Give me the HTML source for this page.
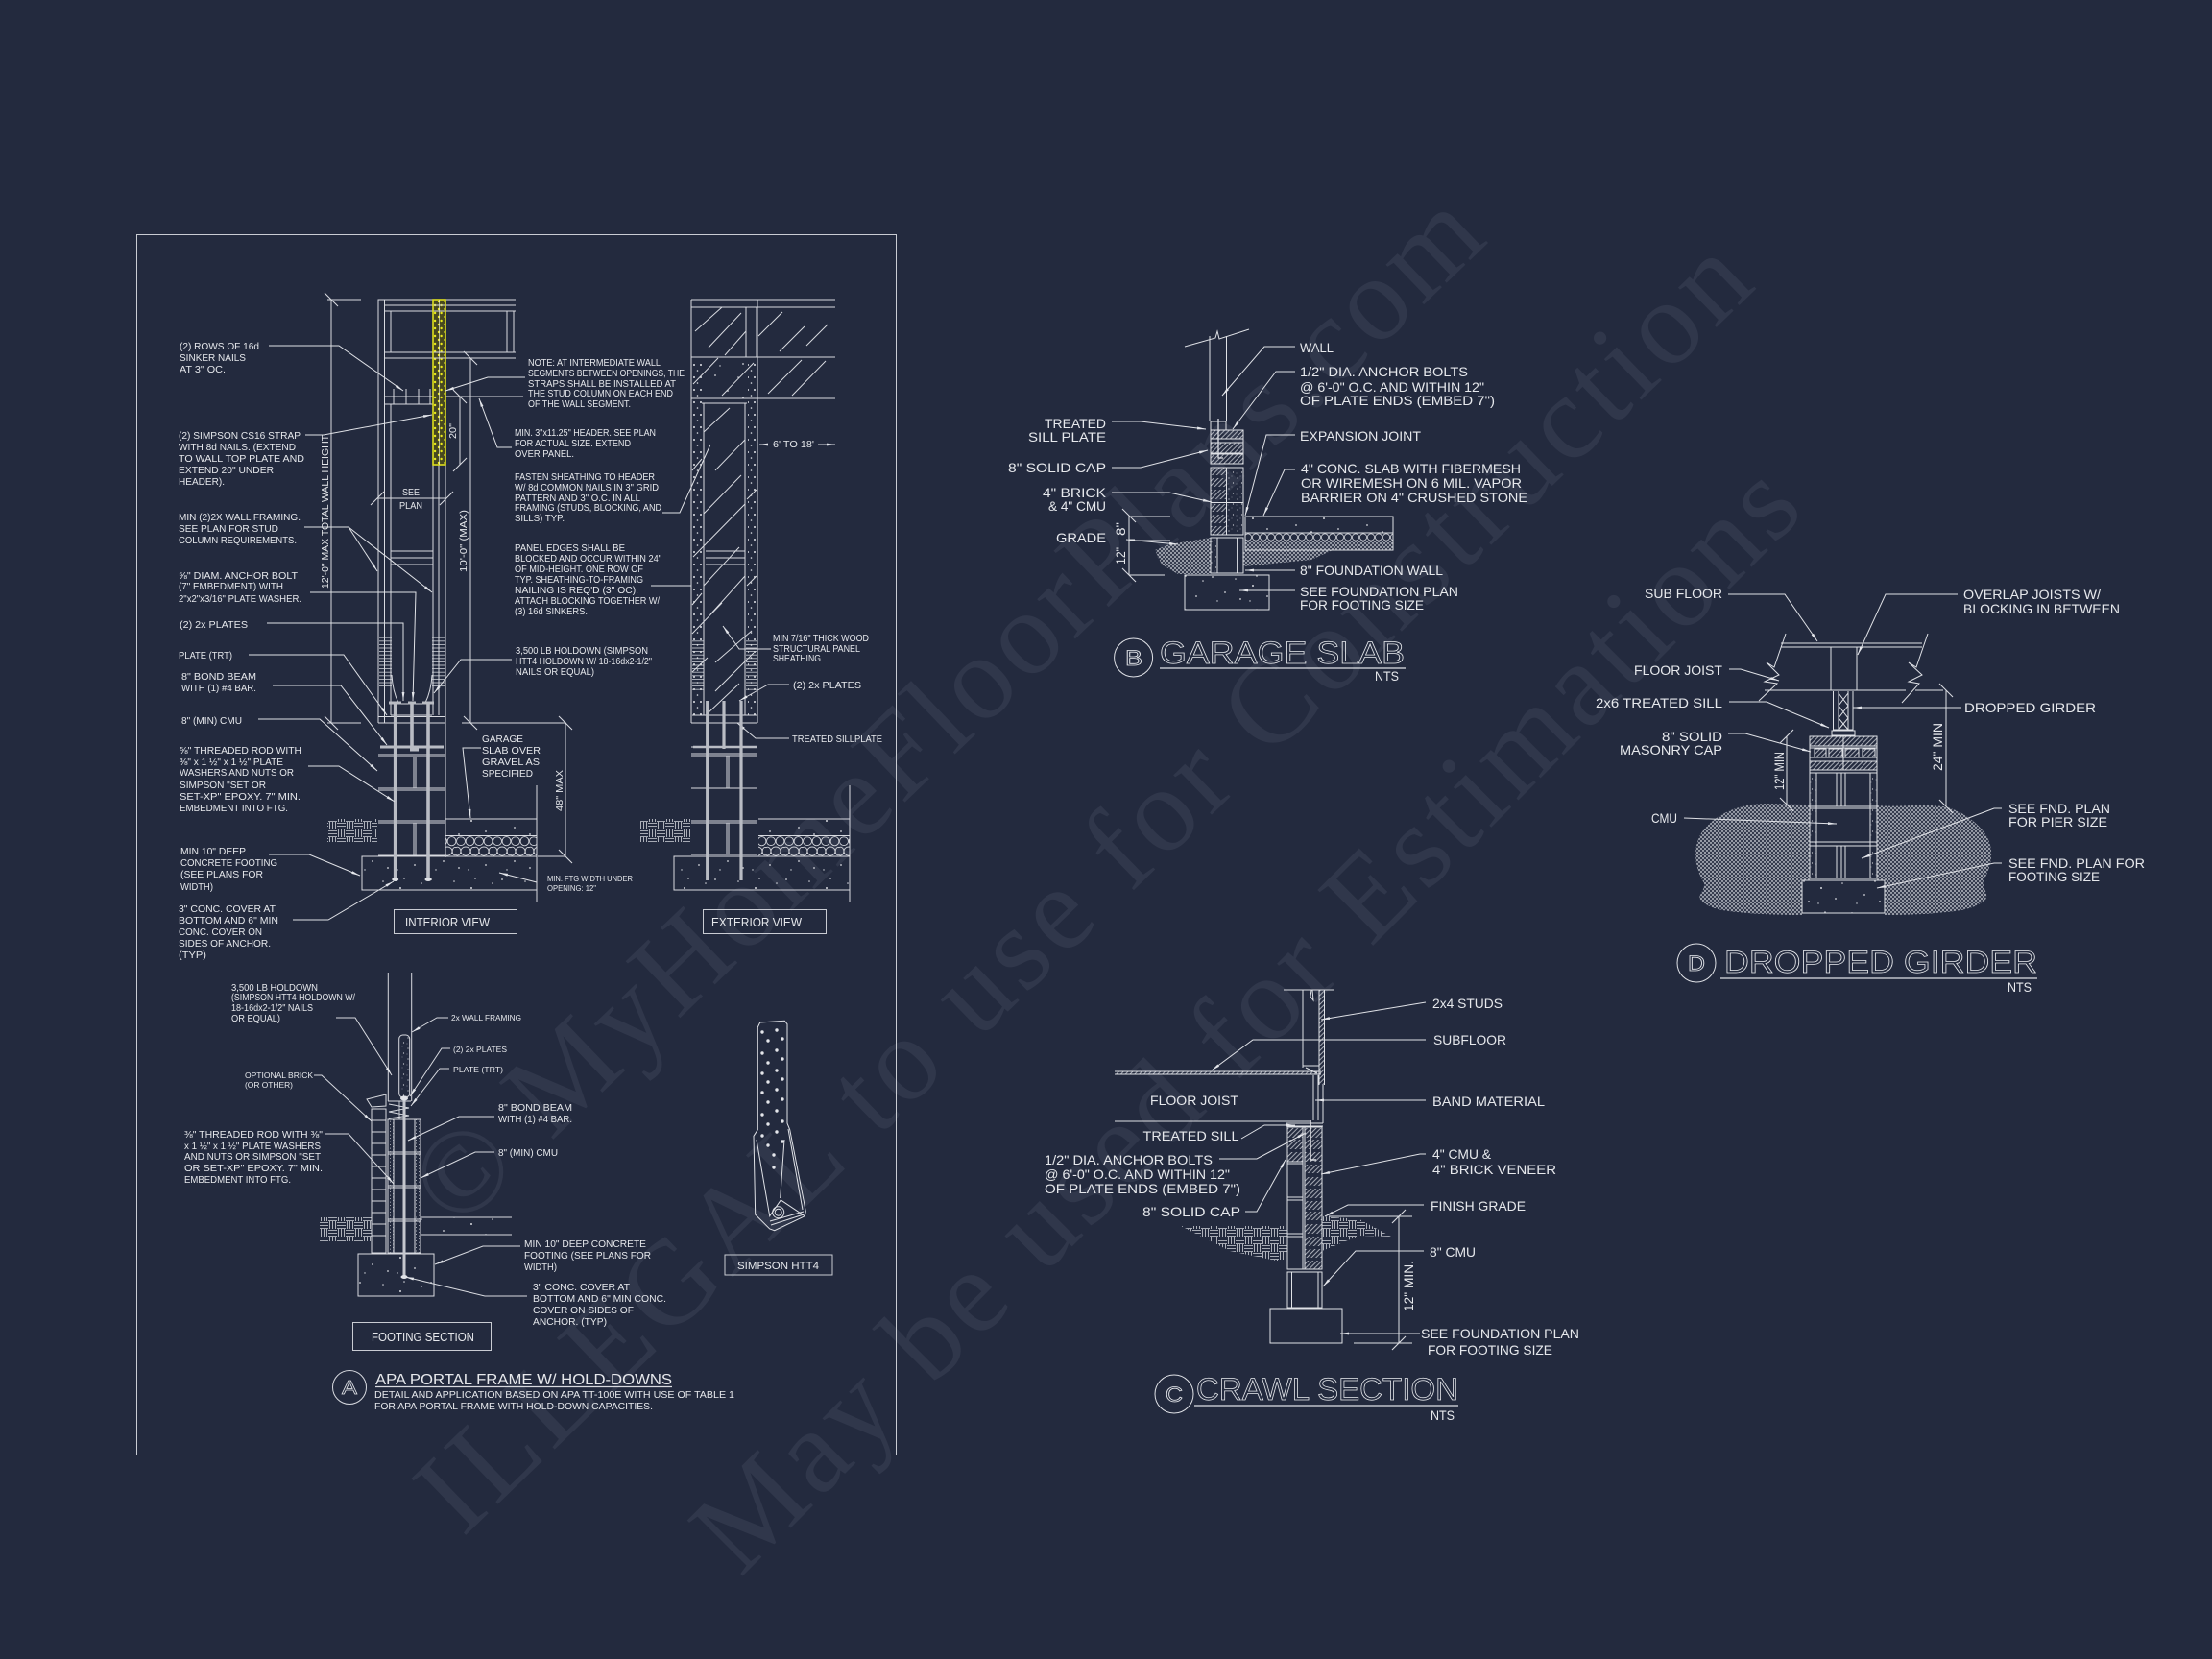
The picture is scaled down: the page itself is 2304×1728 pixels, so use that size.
<!DOCTYPE html>
<html><head><meta charset="utf-8"><title>Foundation details</title>
<style>html,body{margin:0;padding:0;background:#232a3e}svg{display:block}</style></head>
<body>
<svg xmlns="http://www.w3.org/2000/svg" width="2304" height="1728" viewBox="0 0 2304 1728" font-family="'Liberation Sans',sans-serif">
<defs>
<marker id="a" markerUnits="userSpaceOnUse" markerWidth="12" markerHeight="8" refX="11" refY="4" orient="auto"><path d="M2 2.6L11 4L2 5.4z" fill="#e4e6eb"/></marker>
<marker id="t1" markerUnits="userSpaceOnUse" markerWidth="20" markerHeight="20" refX="10" refY="10" orient="0"><path d="M3 3L17 17" stroke="#d8dae0" stroke-width="1.1"/></marker>
<marker id="t2" markerUnits="userSpaceOnUse" markerWidth="20" markerHeight="20" refX="10" refY="10" orient="0"><path d="M3 17L17 3" stroke="#d8dae0" stroke-width="1.1"/></marker>
<pattern id="conc" patternUnits="userSpaceOnUse" width="74" height="35"><g fill="#d5d7dd"><circle cx="5" cy="6" r=".9"/><circle cx="18" cy="22" r=".9"/><circle cx="29" cy="8" r=".8"/><circle cx="34" cy="29" r=".9"/><circle cx="47" cy="15" r="1"/><circle cx="51" cy="5" r=".8"/><circle cx="62" cy="26" r=".9"/><circle cx="69" cy="10" r=".8"/><circle cx="10" cy="31" r=".7"/><circle cx="44" cy="31" r=".7"/></g></pattern>
<pattern id="conc2" patternUnits="userSpaceOnUse" width="9" height="11"><g fill="#d5d7dd"><circle cx="2" cy="3" r=".6"/><circle cx="6.5" cy="8" r=".6"/><circle cx="5" cy="1" r=".4"/><circle cx="1" cy="9" r=".4"/></g></pattern>
<pattern id="grav" patternUnits="userSpaceOnUse" width="19" height="21" patternTransform="translate(0,871)"><g fill="none" stroke="#d5d7dd" stroke-width=".9"><ellipse cx="5" cy="5.2" rx="4.5" ry="4.4"/><ellipse cx="14.5" cy="5.2" rx="4.4" ry="4.6"/><ellipse cx="10" cy="15.6" rx="5" ry="4.6"/><ellipse cx="1.5" cy="15.6" rx="3.4" ry="4.4"/><ellipse cx="18" cy="15.6" rx="2.8" ry="4.2"/></g></pattern>
<pattern id="grav2" patternUnits="userSpaceOnUse" width="8" height="9" patternTransform="translate(0,555)"><circle cx="4" cy="4.5" r="3.6" fill="none" stroke="#d5d7dd" stroke-width=".8"/></pattern>
<pattern id="diag" patternUnits="userSpaceOnUse" width="3.4" height="3.4" patternTransform="rotate(45)"><path d="M1.7 0V3.4" stroke="#cfd2d9" stroke-width=".8"/></pattern>
<pattern id="weave" patternUnits="userSpaceOnUse" width="4" height="4"><path d="M0 0L2 2L4 0M0 4L2 2L4 4" fill="none" stroke="#c2c5cd" stroke-width=".65"/></pattern>
<pattern id="bask" patternUnits="userSpaceOnUse" width="18" height="16"><path d="M0 1.5H9M0 4.5H9M0 7.5H9M10.5 0V8M13.5 0V8M16.5 0V8M1.5 8V16M4.5 8V16M7.5 8V16M9 9.5H18M9 12.5H18M9 15.5H18" fill="none" stroke="#d0d3da" stroke-width=".8"/></pattern>
<pattern id="strap" patternUnits="userSpaceOnUse" width="6.5" height="8"><rect width="6.5" height="8" fill="#474820"/><circle cx="2" cy="2" r="1.2" fill="#eaea1c"/><circle cx="4.6" cy="6" r="1.2" fill="#eaea1c"/></pattern>
<pattern id="hl" patternUnits="userSpaceOnUse" width="4" height="3.6"><path d="M0 1.8H4" stroke="#cfd2d9" stroke-width=".8"/></pattern>
<pattern id="dc" patternUnits="userSpaceOnUse" width="7" height="13"><circle cx="2" cy="3" r="1" fill="#e0e2e7"/><circle cx="5.5" cy="9" r=".8" fill="#e0e2e7"/></pattern>
<pattern id="zig" patternUnits="userSpaceOnUse" width="6" height="3.5"><circle cx="1.5" cy="1" r=".5" fill="#d0d3da"/><circle cx="4.5" cy="2.6" r=".5" fill="#d0d3da"/></pattern>
</defs>
<rect width="2304" height="1728" fill="#232a3e"/>

<!-- watermark -->
<g fill="#30374b" font-family="'Liberation Serif',serif" font-size="125">
<text transform="translate(476,1283) rotate(-43.8)" textLength="1490" lengthAdjust="spacing">© MyHomeFloorPlans.com</text>
<text transform="translate(482,1602) rotate(-44)" textLength="1875" lengthAdjust="spacing">ILLEGAL to use for Construction</text>
<text transform="translate(771,1644) rotate(-45)" textLength="1570" lengthAdjust="spacing">May be used for Estimations</text>
</g>

<rect x="142.5" y="244.5" width="791" height="1271" fill="none" stroke="#c9ccd3" stroke-width="1"/>

<!-- fills -->
<g stroke="none">
<rect x="451" y="312" width="13" height="172" fill="url(#strap)"/>
<rect x="464" y="853" width="95" height="17" fill="url(#conc)"/>
<rect x="464" y="871" width="95" height="21" fill="url(#grav)"/>
<rect x="377" y="892" width="182" height="35" fill="url(#conc)"/>
<rect x="341" y="853" width="52" height="24" fill="url(#bask)"/>
<rect x="790" y="853" width="95" height="17" fill="url(#conc)"/>
<rect x="790" y="871" width="95" height="21" fill="url(#grav)"/>
<rect x="702" y="892" width="183" height="35" fill="url(#conc)"/>
<rect x="667" y="853" width="52" height="24" fill="url(#bask)"/>
<rect x="395" y="663" width="13" height="54" fill="url(#hl)"/>
<rect x="450" y="663" width="13" height="54" fill="url(#hl)"/>
<rect x="721" y="665" width="12" height="55" fill="url(#hl)"/>
<rect x="777" y="665" width="12" height="55" fill="url(#hl)"/>
<rect x="722" y="375" width="9" height="370" fill="url(#dc)"/>
<rect x="779" y="375" width="9" height="370" fill="url(#dc)"/>
<rect x="736" y="375" width="40" height="40" fill="url(#conc)"/>
<!-- footing section -->
<rect x="404" y="1166" width="6" height="139" fill="url(#zig)"/>
<rect x="432" y="1166" width="6" height="139" fill="url(#zig)"/>
<rect x="373" y="1306" width="79" height="44" fill="url(#conc)"/>
<rect x="438" y="1268" width="95" height="18" fill="url(#conc)"/>
<rect x="333" y="1268" width="54" height="25" fill="url(#bask)"/>
<rect x="417" y="1080" width="9" height="62" fill="url(#conc2)"/>
<!-- B -->
<path d="M1203 573L1218 567L1261 560V598H1227L1210 588Z" fill="url(#weave)"/>
<path d="M1295 573H1388L1366 583L1295 590Z" fill="url(#weave)"/>
<rect x="1261" y="448" width="34" height="9" fill="url(#diag)"/><rect x="1261" y="461" width="34" height="11" fill="url(#diag)"/><rect x="1261" y="473" width="34" height="10" fill="url(#diag)"/>
<rect x="1261" y="487" width="16.5" height="8" fill="url(#diag)"/><rect x="1261" y="498" width="16.5" height="9" fill="url(#diag)"/><rect x="1261" y="510" width="16.5" height="10" fill="url(#diag)"/><rect x="1261" y="525" width="16.5" height="8" fill="url(#diag)"/><rect x="1261" y="536" width="16.5" height="9" fill="url(#diag)"/><rect x="1261" y="548" width="16.5" height="9" fill="url(#diag)"/>
<rect x="1278" y="487" width="17" height="70" fill="url(#conc2)"/>
<rect x="1297" y="538" width="154" height="17" fill="url(#conc)"/>
<rect x="1297" y="555" width="154" height="9" fill="url(#grav2)"/>
<rect x="1297" y="564" width="154" height="9" fill="url(#weave)"/>
<rect x="1234" y="599" width="88" height="36" fill="url(#conc)"/>
<rect x="1261" y="562" width="7" height="34" fill="url(#conc2)"/>
<!-- D -->
<path d="M1885 838C1860 838 1840 836 1825 838C1800 842 1782 853 1772 868C1762 885 1766 905 1775 920C1776 928 1768 932 1771 937C1778 944 1785 946 1794 948C1820 952 1850 953 1877 953V917H1885Z" fill="url(#weave)"/>
<path d="M1955 839C1975 841 2000 837 2024 840C2040 843 2055 853 2065 865C2078 880 2076 900 2066 917C2064 925 2072 930 2068 937C2060 944 2052 946 2043 948C2015 952 1990 953 1963 953V917H1955Z" fill="url(#weave)"/>
<rect x="1885" y="767" width="70" height="10" fill="url(#diag)"/>
<rect x="1890" y="780" width="12" height="9" fill="url(#diag)"/><rect x="1905" y="780" width="14" height="9" fill="url(#diag)"/><rect x="1922" y="780" width="14" height="9" fill="url(#diag)"/><rect x="1940" y="780" width="13" height="9" fill="url(#diag)"/>
<rect x="1885" y="793" width="70" height="9" fill="url(#diag)"/>
<rect x="1885" y="805" width="7" height="110" fill="url(#conc2)"/><rect x="1948" y="805" width="7" height="110" fill="url(#conc2)"/>
<rect x="1877" y="917" width="86" height="34" fill="url(#conc)"/>
<!-- C -->
<path d="M1230 1277H1341V1313H1329L1281 1303Z" fill="url(#bask)"/>
<path d="M1377 1267L1416 1270L1449 1288L1416 1287L1377 1303Z" fill="url(#bask)"/>
<rect x="1341" y="1175" width="16" height="10" fill="url(#diag)"/><rect x="1341" y="1187" width="16" height="10" fill="url(#diag)"/><rect x="1341" y="1200" width="16" height="10" fill="url(#diag)"/>
<rect x="1359" y="1175" width="18" height="10" fill="url(#diag)"/><rect x="1359" y="1187" width="18" height="10" fill="url(#diag)"/><rect x="1359" y="1200" width="18" height="10" fill="url(#diag)"/>
<rect x="1359" y="1213" width="18" height="9" fill="url(#diag)"/><rect x="1359" y="1226" width="18" height="9" fill="url(#diag)"/><rect x="1359" y="1238" width="18" height="10" fill="url(#diag)"/><rect x="1359" y="1251" width="18" height="9" fill="url(#diag)"/><rect x="1359" y="1262" width="18" height="9" fill="url(#diag)"/><rect x="1359" y="1275" width="18" height="10" fill="url(#diag)"/><rect x="1359" y="1288" width="18" height="10" fill="url(#diag)"/><rect x="1359" y="1301" width="18" height="9" fill="url(#diag)"/><rect x="1359" y="1313" width="18" height="9" fill="url(#diag)"/>
<rect x="1161" y="1116" width="215" height="3" fill="url(#diag)"/>
<rect x="1374" y="1031" width="5.5" height="99" fill="url(#diag)"/>
</g>

<!-- A: interior view -->
<g fill="none" stroke="#d8dae0" stroke-width="1">
<path d="M537 312H394V753M400.5 312V753M400 318H537M400 324H537M407 324V367M528 324V367M535 324V367M400 367H537M400 373H537"/>
<path d="M407 421V745M451 484V745M457 484V745M464 484V893M400 413H451M400 421H451M464 413H545M410 405V421M423 405V421M436 405V421M448 405V421"/>
<path d="M407 574H451M407 581H451M407 588H451"/>
<path d="M408 703Q409 720 415 732M450 703Q449 720 443 732M407 733H450M407 745H450"/>
<path d="M394 746.5H464M394 753H464M394 786H464M394 788H464M394 821H464M394 823H464M394 855H464M394 857H464M394 891H464M431 788V821M433 788V821M431 857V891M433 857V891"/>
<path d="M464 853H559M464 870.5H559M559 818V940M377 892H559V927H377Z"/>
<path d="M341 312H376M341 753H376"/>
<path d="M345 312V753" marker-start="url(#t1)" marker-end="url(#t1)"/>
<path d="M481 753H540M481 373H490" />
<path d="M490 373V753" marker-start="url(#t1)" marker-end="url(#t1)"/>
<path d="M479 413V484" marker-start="url(#t1)" marker-end="url(#t2)"/>
<path d="M393 519H465" marker-start="url(#t2)" marker-end="url(#t2)"/>
<path d="M394 505V530M464 505V530"/>
<path d="M482 753H590M560 892H589"/>
<path d="M589 753V892" marker-start="url(#t1)" marker-end="url(#t1)"/>
<rect x="410.5" y="947.5" width="128" height="25" stroke="#c9ccd3"/>
<rect x="732.5" y="947.5" width="128" height="25" stroke="#c9ccd3"/>
</g>
<rect x="451" y="312" width="13" height="172" fill="none" stroke="#dede1e" stroke-width="1.6"/>
<path d="M457.5 312V484" stroke="#e8e8d0" stroke-width=".7"/>
<g fill="none" stroke="#b9bcc4">
<path d="M411.7 732V917M446 732V917M429 732V781" stroke-width="3.6"/>
<path d="M396 778H462" stroke-width="3"/>
<path d="M405 732H418M440 732H452M425 732H433M427 781H436" stroke-width="3"/>
</g>
<g fill="#e0e2e7"><ellipse cx="411.7" cy="916" rx="3.5" ry="2"/><ellipse cx="446" cy="916" rx="3.5" ry="2"/></g>
<g fill="none" stroke="#dfe1e6" stroke-width="1">
<path d="M280 360H353L420 407" marker-end="url(#a)"/>
<path d="M318 453H337L450 432" marker-end="url(#a)"/>
<path d="M317 549H363L450 617" marker-end="url(#a)"/>
<path d="M363 549L393 595" marker-end="url(#a)"/>
<path d="M323 617H433L430 730" marker-end="url(#a)"/>
<path d="M278 649H420V730" marker-end="url(#a)"/>
<path d="M259 682H358L403 745" marker-end="url(#a)"/>
<path d="M284 714H355L403 776" marker-end="url(#a)"/>
<path d="M269 749H333L393 803" marker-end="url(#a)"/>
<path d="M321 798H353L411 835" marker-end="url(#a)"/>
<path d="M280 890H322L375 912" marker-end="url(#a)"/>
<path d="M305 958H342L410 918" marker-end="url(#a)"/>
<path d="M533 466H518L499 415" marker-end="url(#a)"/>
<path d="M547 393H508L464 407" marker-end="url(#a)"/>
<path d="M533 687H480L452 722" marker-end="url(#a)"/>
<path d="M501 779H482L490 852" marker-end="url(#a)"/>
<path d="M559 919L520 909" marker-end="url(#a)"/>
<path d="M690 534H708L740 463"/>
<path d="M678 610H720"/>
</g>

<!-- A: exterior view -->
<g fill="none" stroke="#d8dae0" stroke-width="1">
<path d="M720 312H870M720 320H870M720 372H870M720 415H870M720 312V753M789 312V753M777 320V372M788 320V372"/>
<path d="M733 420V745M776 420V745M731 420H778M735 574H776M735 581H776M735 588H776M721 745H788"/>
<path d="M720 753H789M720 778H789M720 785H789M720 787H789M720 821H789M720 855H789M720 857H789M720 890H789M757 787V821M759 787V821M757 857V890M759 857V890"/>
<path d="M790 853H885M790 870.5H885M885 818V940M702 892H885V927H702Z"/>
<path d="M800 463H791" marker-end="url(#a)"/>
<path d="M852 463H870" marker-end="url(#a)"/>
<path d="M803 676H770L753 652" marker-end="url(#a)"/>
<path d="M822 713H800L770 730" marker-end="url(#a)"/>
<path d="M822 769H787L768 753" marker-end="url(#a)"/>
<path d="M724 345L752 320M738 362L772 326M755 370L777 345M790 350L815 325M812 366L838 340M840 360L862 338M722 400L748 373M752 412L785 378M800 410L835 375M825 412L860 376"/>
<path d="M733 450L760 425M745 490L776 458M733 535L772 495M722 580L776 525M733 610L770 570M721 660L752 628M745 690L783 657M721 700L737 685M745 720L785 680M735 745L770 712M740 640L776 600M721 490L731 478M778 520L788 510M721 630L731 618M778 610L788 600"/>
</g>
<g fill="none" stroke="#b9bcc4">
<path d="M736.7 730V917M772 730V917M754 730V780" stroke-width="3.2"/>
<path d="M722 778H788" stroke-width="2.4"/>
</g>

<!-- A: footing section -->
<g fill="none" stroke="#d8dae0" stroke-width="1">
<path d="M404.3 1013V1147M428.7 1013V1147"/>
<rect x="415.7" y="1078" width="11" height="65" rx="4"/>
<path d="M404 1147H428M404 1166H438V1305H404ZM410 1166V1305M432 1166V1305M404 1200H438M404 1202H438M404 1235H438M404 1237H438M404 1270H438M404 1272H438"/>
<path d="M405 1150L426 1154L405 1158L426 1162L405 1165M416 1147V1166" stroke-width=".9"/>
<path d="M387 1155H402V1305H387ZM387 1167H402M387 1179H402M387 1191H402M387 1203H402M387 1215H402M387 1227H402M387 1239H402M387 1251H402M387 1263H402M387 1275H402M387 1287H402M382 1145L402 1140V1152L387 1153Z"/>
<rect x="373" y="1306" width="79" height="44"/>
<path d="M438 1268H533M438 1286H533"/>
<path d="M350 1060H370L408 1120" marker-end="url(#a)"/>
<path d="M467 1060H455L429 1075" marker-end="url(#a)"/>
<path d="M469 1092H460L427 1142" marker-end="url(#a)"/>
<path d="M468 1113H458L428 1152" marker-end="url(#a)"/>
<path d="M327 1120H335L387 1168" marker-end="url(#a)"/>
<path d="M515 1163H478L425 1188" marker-end="url(#a)"/>
<path d="M515 1200H495L438 1227" marker-end="url(#a)"/>
<path d="M338 1181H363L410 1233" marker-end="url(#a)"/>
<path d="M542 1298H503L453 1317" marker-end="url(#a)"/>
<path d="M549 1350H505L422 1330" marker-end="url(#a)"/>
<rect x="367.5" y="1377.5" width="144" height="29" stroke="#c9ccd3"/>
<circle cx="364" cy="1445" r="17.5"/>
<path d="M391 1444.5H700" stroke-width="1.2"/>
</g>
<path d="M421 1143V1330" stroke="#c4c6cd" stroke-width="3" fill="none"/>
<ellipse cx="421" cy="1330" rx="3.5" ry="2" fill="#e0e2e7"/>
<ellipse cx="421" cy="1144" rx="4" ry="2.5" fill="#e0e2e7"/>

<!-- HTT4 -->
<g fill="none" stroke="#dfe1e6" stroke-width="1">
<path d="M789.3 1070L791.7 1065L817.3 1063.3L820 1066.7V1170L822.7 1176.7L839.3 1261.7L838.3 1266.7L806.7 1281.7L801.7 1280L786.7 1265L785 1183.3L789.3 1176.7Z"/>
<path d="M788 1187L801.7 1266.7L813.3 1250L838.3 1266.7M817 1187L812.7 1248M802 1272L837 1262M803 1276L837 1265M821 1176L836 1260"/>
<circle cx="810.7" cy="1262.7" r="6"/><circle cx="810.7" cy="1262.7" r="3.5"/>
<rect x="755" y="1307" width="112" height="21" stroke="#c9ccd3"/>
</g>
<g fill="#e4e6eb">
<circle cx="794" cy="1075" r="1.7"/><circle cx="809" cy="1073" r="1.7"/><circle cx="800" cy="1084" r="1.7"/><circle cx="815" cy="1082" r="1.7"/><circle cx="794" cy="1097" r="1.7"/><circle cx="809" cy="1094" r="1.7"/><circle cx="800" cy="1107" r="1.7"/><circle cx="815" cy="1103" r="1.7"/><circle cx="794" cy="1118" r="1.7"/><circle cx="809" cy="1115" r="1.7"/><circle cx="800" cy="1127" r="1.7"/><circle cx="815" cy="1124" r="1.7"/><circle cx="794" cy="1138" r="1.7"/><circle cx="809" cy="1135" r="1.7"/><circle cx="800" cy="1148" r="1.7"/><circle cx="815" cy="1145" r="1.7"/><circle cx="794" cy="1161" r="1.7"/><circle cx="809" cy="1157" r="1.7"/><circle cx="800" cy="1171" r="1.7"/><circle cx="815" cy="1168" r="1.7"/><circle cx="794" cy="1183" r="1.7"/><circle cx="809" cy="1179" r="1.7"/><circle cx="800" cy="1193" r="1.7"/><circle cx="815" cy="1189" r="1.7"/><circle cx="806" cy="1203" r="1.7"/><circle cx="806" cy="1216" r="1.7"/>
</g>

<!-- B lines -->
<g fill="none" stroke="#dfe1e6" stroke-width="1">
<path d="M1260 350V439M1277.5 350V439M1234 361L1266 352L1268 345L1270 353L1301 343"/>
<path d="M1261 439H1277V448M1261 439V448M1261 448H1295V483H1261ZM1261 457H1295M1261 461H1295M1261 472H1295M1261 473H1295"/>
<path d="M1261 487H1295V557H1261ZM1277.5 487V557M1261 523.5H1295"/>
<path d="M1261 560H1295V597H1261ZM1268 560V597M1288.6 560V597"/>
<path d="M1269 436V477H1274" stroke-width="1.3"/>
<rect x="1234" y="599" width="88" height="36"/>
<rect x="1297" y="538" width="154" height="35"/>
<path d="M1297 555H1451"/>
<path d="M1176 537V599" marker-start="url(#t1)" marker-end="url(#t1)"/>
<path d="M1176 562H1182M1176 538H1219M1176 563H1219M1176 599H1213"/>
<path d="M1349 361H1317L1273 412" marker-end="url(#a)"/>
<path d="M1349 387H1329L1284 447" marker-end="url(#a)"/>
<path d="M1158 439H1188L1256 447" marker-end="url(#a)"/>
<path d="M1158 487H1188L1258 469" marker-end="url(#a)"/>
<path d="M1158 513H1218L1262 523" marker-end="url(#a)"/>
<path d="M1173 562L1227 567" marker-end="url(#a)"/>
<path d="M1349 453H1319L1297 537" marker-end="url(#a)"/>
<path d="M1349 489H1338L1316 537" marker-end="url(#a)"/>
<path d="M1349 594H1297" marker-end="url(#a)"/>
<path d="M1349 615H1291" marker-end="url(#a)"/>
<circle cx="1180.6" cy="685" r="20"/>
<path d="M1208 696H1464" stroke-width="1.3"/>
</g>

<!-- D lines -->
<g fill="none" stroke="#dfe1e6" stroke-width="1">
<path d="M1855 670H2002M1855 674H2002M1838 719H1985M1995 719H2024M1907 674V719M1934 674V719"/>
<path d="M1860 660L1848 695L1840 690L1853 703L1838 710L1851 712L1832 730M2008 660L1996 695L1988 690L2002 703L1988 710L1999 712L1981 732"/>
<path d="M1909.5 720V760H1930V720M1915 720V760M1925 720V760M1915 722L1925 735L1915 748L1925 760M1925 722L1915 735L1925 748L1915 760"/>
<rect x="1908" y="761" width="24" height="5"/>
<path d="M1885 767H1955V915H1885ZM1920 767V802M1885 777H1955M1885 779H1955M1885 789H1955M1885 793H1955M1885 802H1955M1885 805H1955M1885 840H1955M1885 842H1955M1885 877H1955M1885 881H1955"/>
<path d="M1892 805V915M1948 805V915M1913 805V840M1913 881V915M1918 805V840M1918 881V915M1922 805V840M1922 881V915M1890 780H1902V789H1890ZM1905 780H1919V789H1905ZM1922 780H1936V789H1922ZM1940 780H1953V789H1940Z"/>
<rect x="1877" y="917" width="86" height="34"/>
<path d="M1800 619H1859L1893 668" marker-end="url(#a)"/>
<path d="M2039 619H1964L1935 682" marker-end="url(#a)"/>
<path d="M1801 697H1813L1853 709" marker-end="url(#a)"/>
<path d="M1801 731H1840L1905 758" marker-end="url(#a)"/>
<path d="M2043 737H1930" marker-end="url(#a)"/>
<path d="M1800 764H1818L1886 783" marker-end="url(#a)"/>
<path d="M1754 852L1913 858" marker-end="url(#a)"/>
<path d="M2085 842H2077L1939 894" marker-end="url(#a)"/>
<path d="M2085 899H2077L1955 925" marker-end="url(#a)"/>
<path d="M2027 719V840" marker-start="url(#t1)" marker-end="url(#t1)"/>
<path d="M1861 767V838" marker-start="url(#t2)" marker-end="url(#t1)"/>
<circle cx="1767" cy="1003" r="20"/>
<path d="M1792 1019H2122" stroke-width="1.3"/>
</g>

<!-- C lines -->
<g fill="none" stroke="#dfe1e6" stroke-width="1">
<path d="M1337 1031H1390M1357 1031V1112M1374 1031V1130M1379.5 1031V1130M1366 1031L1365 1038L1368 1042L1367 1031"/>
<path d="M1161 1116H1376M1161 1119H1376M1357 1110H1374M1360 1112L1372 1118"/>
<path d="M1368 1120V1167M1373 1120V1167M1378 1130V1170M1161 1168H1364M1340 1170H1378M1340 1173H1378"/>
<path d="M1341 1174H1377V1322H1341ZM1357 1174V1322M1359 1174V1322M1341 1210H1357M1341 1212H1357M1341 1247H1357M1341 1250H1357M1341 1285H1357M1341 1288H1357"/>
<path d="M1341 1325H1377V1362H1341ZM1345.5 1325V1362M1373 1325V1362"/>
<path d="M1365 1167V1208H1371" stroke-width="1.6"/>
<rect x="1323" y="1363" width="75" height="36"/>
<path d="M1485 1044L1376 1062" marker-end="url(#a)"/>
<path d="M1485 1083H1305L1262 1115" marker-end="url(#a)"/>
<path d="M1485 1146H1370" marker-end="url(#a)"/>
<path d="M1293 1186L1317 1172H1349" marker-end="url(#a)"/>
<path d="M1270 1207H1309L1360 1180" marker-end="url(#a)"/>
<path d="M1297 1262H1309L1339 1208" marker-end="url(#a)"/>
<path d="M1485 1202H1479L1376 1223" marker-end="url(#a)"/>
<path d="M1483 1255H1404L1380 1267" marker-end="url(#a)"/>
<path d="M1483 1303H1412L1378 1340" marker-end="url(#a)"/>
<path d="M1479 1389H1396" marker-end="url(#a)"/>
<path d="M1457 1267V1399" marker-start="url(#t2)" marker-end="url(#t2)"/>
<path d="M1384 1267H1471M1410 1399H1471"/>
<circle cx="1223" cy="1452" r="20"/>
<path d="M1244 1464H1519" stroke-width="1.3"/>
</g>

<!-- A notes -->
<g fill="#e6e8ec" font-size="10">
<text x="187" y="364" textLength="83" lengthAdjust="spacingAndGlyphs">(2) ROWS OF 16d</text>
<text x="187" y="376" textLength="69" lengthAdjust="spacingAndGlyphs">SINKER NAILS</text>
<text x="187" y="388" textLength="48" lengthAdjust="spacingAndGlyphs">AT 3" OC.</text>
<text x="186" y="457" textLength="127" lengthAdjust="spacingAndGlyphs">(2) SIMPSON CS16 STRAP</text>
<text x="186" y="469" textLength="122" lengthAdjust="spacingAndGlyphs">WITH 8d NAILS. (EXTEND</text>
<text x="186" y="481" textLength="131" lengthAdjust="spacingAndGlyphs">TO WALL TOP PLATE AND</text>
<text x="186" y="493" textLength="99" lengthAdjust="spacingAndGlyphs">EXTEND 20" UNDER</text>
<text x="186" y="505" textLength="48" lengthAdjust="spacingAndGlyphs">HEADER).</text>
<text x="186" y="542" textLength="127" lengthAdjust="spacingAndGlyphs">MIN (2)2X WALL FRAMING.</text>
<text x="186" y="554" textLength="104" lengthAdjust="spacingAndGlyphs">SEE PLAN FOR STUD</text>
<text x="186" y="566" textLength="123" lengthAdjust="spacingAndGlyphs">COLUMN REQUIREMENTS.</text>
<text x="186" y="603" textLength="124" lengthAdjust="spacingAndGlyphs">⅝" DIAM. ANCHOR BOLT</text>
<text x="186" y="614" textLength="109" lengthAdjust="spacingAndGlyphs">(7" EMBEDMENT) WITH</text>
<text x="186" y="627" textLength="128" lengthAdjust="spacingAndGlyphs">2"x2"x3/16" PLATE WASHER.</text>
<text x="187" y="654" textLength="71" lengthAdjust="spacingAndGlyphs">(2) 2x PLATES</text>
<text x="186" y="686" textLength="56" lengthAdjust="spacingAndGlyphs">PLATE (TRT)</text>
<text x="189" y="708" textLength="78" lengthAdjust="spacingAndGlyphs">8" BOND BEAM</text>
<text x="189" y="720" textLength="78" lengthAdjust="spacingAndGlyphs">WITH (1) #4 BAR.</text>
<text x="189" y="754" textLength="63" lengthAdjust="spacingAndGlyphs">8" (MIN) CMU</text>
<text x="187" y="785" textLength="127" lengthAdjust="spacingAndGlyphs">⅝" THREADED ROD WITH</text>
<text x="187" y="797" textLength="108" lengthAdjust="spacingAndGlyphs">⅜" x 1 ½" x 1 ½" PLATE</text>
<text x="187" y="808" textLength="119" lengthAdjust="spacingAndGlyphs">WASHERS AND NUTS OR</text>
<text x="187" y="821" textLength="90" lengthAdjust="spacingAndGlyphs">SIMPSON "SET OR</text>
<text x="187" y="833" textLength="126" lengthAdjust="spacingAndGlyphs">SET-XP" EPOXY.  7" MIN.</text>
<text x="187" y="845" textLength="113" lengthAdjust="spacingAndGlyphs">EMBEDMENT INTO FTG.</text>
<text x="188" y="890" textLength="68" lengthAdjust="spacingAndGlyphs">MIN 10" DEEP</text>
<text x="188" y="902" textLength="101" lengthAdjust="spacingAndGlyphs">CONCRETE FOOTING</text>
<text x="188" y="914" textLength="86" lengthAdjust="spacingAndGlyphs">(SEE PLANS FOR</text>
<text x="188" y="927" textLength="34" lengthAdjust="spacingAndGlyphs">WIDTH)</text>
<text x="186" y="950" textLength="101" lengthAdjust="spacingAndGlyphs">3" CONC. COVER AT</text>
<text x="186" y="962" textLength="104" lengthAdjust="spacingAndGlyphs">BOTTOM AND 6" MIN</text>
<text x="186" y="974" textLength="87" lengthAdjust="spacingAndGlyphs">CONC. COVER ON</text>
<text x="186" y="986" textLength="96" lengthAdjust="spacingAndGlyphs">SIDES OF ANCHOR.</text>
<text x="186" y="998" textLength="29" lengthAdjust="spacingAndGlyphs">(TYP)</text>
<text x="419" y="516" textLength="18" lengthAdjust="spacingAndGlyphs">SEE</text>
<text x="416" y="530" textLength="24" lengthAdjust="spacingAndGlyphs">PLAN</text>
<text transform="translate(342,613) rotate(-90)" textLength="160" lengthAdjust="spacingAndGlyphs">12'-0" MAX TOTAL WALL HEIGHT</text>
<text transform="translate(486,596) rotate(-90)" textLength="65" lengthAdjust="spacingAndGlyphs">10'-0" (MAX)</text>
<text transform="translate(475,457) rotate(-90)" textLength="16" lengthAdjust="spacingAndGlyphs">20"</text>
<text transform="translate(586,845) rotate(-90)" textLength="43" lengthAdjust="spacingAndGlyphs">48" MAX</text>
<text x="550" y="381" textLength="138" lengthAdjust="spacingAndGlyphs">NOTE: AT INTERMEDIATE WALL</text>
<text x="550" y="392" textLength="163" lengthAdjust="spacingAndGlyphs">SEGMENTS BETWEEN OPENINGS, THE</text>
<text x="550" y="403" textLength="154" lengthAdjust="spacingAndGlyphs">STRAPS SHALL BE INSTALLED AT</text>
<text x="550" y="413" textLength="151" lengthAdjust="spacingAndGlyphs">THE STUD COLUMN ON EACH END</text>
<text x="550" y="424" textLength="107" lengthAdjust="spacingAndGlyphs">OF THE WALL SEGMENT.</text>
<text x="536" y="454" textLength="147" lengthAdjust="spacingAndGlyphs">MIN. 3"x11.25" HEADER. SEE PLAN</text>
<text x="536" y="465" textLength="121" lengthAdjust="spacingAndGlyphs">FOR ACTUAL SIZE. EXTEND</text>
<text x="536" y="476" textLength="62" lengthAdjust="spacingAndGlyphs">OVER PANEL.</text>
<text x="536" y="500" textLength="146" lengthAdjust="spacingAndGlyphs">FASTEN SHEATHING TO HEADER</text>
<text x="536" y="511" textLength="150" lengthAdjust="spacingAndGlyphs">W/ 8d COMMON NAILS IN 3" GRID</text>
<text x="536" y="522" textLength="131" lengthAdjust="spacingAndGlyphs">PATTERN AND 3" O.C. IN ALL</text>
<text x="536" y="532" textLength="153" lengthAdjust="spacingAndGlyphs">FRAMING (STUDS, BLOCKING, AND</text>
<text x="536" y="543" textLength="52" lengthAdjust="spacingAndGlyphs">SILLS) TYP.</text>
<text x="536" y="574" textLength="115" lengthAdjust="spacingAndGlyphs">PANEL EDGES SHALL BE</text>
<text x="536" y="585" textLength="153" lengthAdjust="spacingAndGlyphs">BLOCKED AND OCCUR WITHIN 24"</text>
<text x="536" y="596" textLength="134" lengthAdjust="spacingAndGlyphs">OF MID-HEIGHT.  ONE ROW OF</text>
<text x="536" y="607" textLength="134" lengthAdjust="spacingAndGlyphs">TYP. SHEATHING-TO-FRAMING</text>
<text x="536" y="618" textLength="129" lengthAdjust="spacingAndGlyphs">NAILING IS REQ'D (3" OC).</text>
<text x="536" y="629" textLength="151" lengthAdjust="spacingAndGlyphs">ATTACH BLOCKING TOGETHER W/</text>
<text x="536" y="640" textLength="76" lengthAdjust="spacingAndGlyphs">(3) 16d SINKERS.</text>
<text x="537" y="681" textLength="138" lengthAdjust="spacingAndGlyphs">3,500 LB HOLDOWN (SIMPSON</text>
<text x="537" y="692" textLength="142" lengthAdjust="spacingAndGlyphs">HTT4 HOLDOWN W/ 18-16dx2-1/2"</text>
<text x="537" y="703" textLength="82" lengthAdjust="spacingAndGlyphs">NAILS OR EQUAL)</text>
<text x="502" y="773" textLength="43" lengthAdjust="spacingAndGlyphs">GARAGE</text>
<text x="502" y="785" textLength="61" lengthAdjust="spacingAndGlyphs">SLAB OVER</text>
<text x="502" y="797" textLength="60" lengthAdjust="spacingAndGlyphs">GRAVEL AS</text>
<text x="502" y="809" textLength="53" lengthAdjust="spacingAndGlyphs">SPECIFIED</text>
<text x="805" y="668" textLength="100" lengthAdjust="spacingAndGlyphs">MIN 7/16" THICK WOOD</text>
<text x="805" y="679" textLength="91" lengthAdjust="spacingAndGlyphs">STRUCTURAL PANEL</text>
<text x="805" y="689" textLength="50" lengthAdjust="spacingAndGlyphs">SHEATHING</text>
<text x="826" y="717" textLength="71" lengthAdjust="spacingAndGlyphs">(2) 2x PLATES</text>
<text x="825" y="773" textLength="94" lengthAdjust="spacingAndGlyphs">TREATED SILLPLATE</text>
<text x="805" y="466" textLength="43" lengthAdjust="spacingAndGlyphs">6' TO 18'</text>
<text x="241" y="1032" textLength="90" lengthAdjust="spacingAndGlyphs">3,500 LB HOLDOWN</text>
<text x="241" y="1042" textLength="129" lengthAdjust="spacingAndGlyphs">(SIMPSON HTT4 HOLDOWN W/</text>
<text x="241" y="1053" textLength="85" lengthAdjust="spacingAndGlyphs">18-16dx2-1/2" NAILS</text>
<text x="241" y="1064" textLength="51" lengthAdjust="spacingAndGlyphs">OR EQUAL)</text>
<text x="519" y="1157" textLength="77" lengthAdjust="spacingAndGlyphs">8" BOND BEAM</text>
<text x="519" y="1169" textLength="77" lengthAdjust="spacingAndGlyphs">WITH (1) #4 BAR.</text>
<text x="519" y="1204" textLength="62" lengthAdjust="spacingAndGlyphs">8" (MIN) CMU</text>
<text x="192" y="1185" textLength="144" lengthAdjust="spacingAndGlyphs">⅜" THREADED ROD WITH ⅜"</text>
<text x="192" y="1197" textLength="142" lengthAdjust="spacingAndGlyphs">x 1 ½" x 1 ½" PLATE WASHERS</text>
<text x="192" y="1208" textLength="142" lengthAdjust="spacingAndGlyphs">AND NUTS OR SIMPSON "SET</text>
<text x="192" y="1220" textLength="144" lengthAdjust="spacingAndGlyphs">OR SET-XP" EPOXY.  7" MIN.</text>
<text x="192" y="1232" textLength="111" lengthAdjust="spacingAndGlyphs">EMBEDMENT INTO FTG.</text>
<text x="546" y="1299" textLength="127" lengthAdjust="spacingAndGlyphs">MIN 10" DEEP CONCRETE</text>
<text x="546" y="1311" textLength="132" lengthAdjust="spacingAndGlyphs">FOOTING (SEE PLANS FOR</text>
<text x="546" y="1323" textLength="34" lengthAdjust="spacingAndGlyphs">WIDTH)</text>
<text x="555" y="1344" textLength="101" lengthAdjust="spacingAndGlyphs">3" CONC. COVER AT</text>
<text x="555" y="1356" textLength="139" lengthAdjust="spacingAndGlyphs">BOTTOM AND 6" MIN CONC.</text>
<text x="555" y="1368" textLength="105" lengthAdjust="spacingAndGlyphs">COVER ON SIDES OF</text>
<text x="555" y="1380" textLength="77" lengthAdjust="spacingAndGlyphs">ANCHOR. (TYP)</text>
<text x="390" y="1456" textLength="375" lengthAdjust="spacingAndGlyphs">DETAIL AND APPLICATION BASED ON APA TT-100E WITH USE OF TABLE 1</text>
<text x="390" y="1468" textLength="290" lengthAdjust="spacingAndGlyphs">FOR APA PORTAL FRAME WITH HOLD-DOWN CAPACITIES.</text>
</g>
<g fill="#e6e8ec" font-size="8">
<text x="570" y="918" textLength="89" lengthAdjust="spacingAndGlyphs">MIN. FTG WIDTH UNDER</text>
<text x="570" y="928" textLength="51" lengthAdjust="spacingAndGlyphs">OPENING: 12"</text>
<text x="470" y="1063" textLength="73" lengthAdjust="spacingAndGlyphs">2x WALL FRAMING</text>
<text x="472" y="1096" textLength="56" lengthAdjust="spacingAndGlyphs">(2) 2x PLATES</text>
<text x="472" y="1117" textLength="52" lengthAdjust="spacingAndGlyphs">PLATE (TRT)</text>
<text x="255" y="1123" textLength="71" lengthAdjust="spacingAndGlyphs">OPTIONAL BRICK</text>
<text x="255" y="1133" textLength="50" lengthAdjust="spacingAndGlyphs">(OR OTHER)</text>
</g>
<g fill="#e6e8ec" font-size="13">
<text x="422" y="965" textLength="88" lengthAdjust="spacingAndGlyphs">INTERIOR VIEW</text>
<text x="741" y="965" textLength="94" lengthAdjust="spacingAndGlyphs">EXTERIOR VIEW</text>
<text x="387" y="1397" textLength="107" lengthAdjust="spacingAndGlyphs">FOOTING SECTION</text>
<text x="768" y="1322" textLength="85" lengthAdjust="spacingAndGlyphs" font-size="11">SIMPSON HTT4</text>
</g>
<text x="391" y="1442" font-size="16" textLength="309" lengthAdjust="spacingAndGlyphs" fill="#e6e8ec">APA PORTAL FRAME W/ HOLD-DOWNS</text>
<text x="356" y="1452" font-size="20" textLength="16" lengthAdjust="spacingAndGlyphs" fill="none" stroke="#e6e8ec" stroke-width=".7">A</text>

<!-- B/C/D labels -->
<g fill="#e6e8ec" font-size="14">
<text x="1354" y="367" textLength="35" lengthAdjust="spacingAndGlyphs">WALL</text>
<text x="1354" y="392" textLength="175" lengthAdjust="spacingAndGlyphs">1/2" DIA. ANCHOR BOLTS</text>
<text x="1354" y="408" textLength="192" lengthAdjust="spacingAndGlyphs">@ 6'-0" O.C. AND WITHIN 12"</text>
<text x="1354" y="422" textLength="203" lengthAdjust="spacingAndGlyphs">OF PLATE ENDS (EMBED 7")</text>
<text x="1354" y="459" textLength="126" lengthAdjust="spacingAndGlyphs">EXPANSION JOINT</text>
<text x="1355" y="493" textLength="229" lengthAdjust="spacingAndGlyphs">4" CONC. SLAB WITH FIBERMESH</text>
<text x="1355" y="508" textLength="230" lengthAdjust="spacingAndGlyphs">OR WIREMESH ON 6 MIL. VAPOR</text>
<text x="1355" y="523" textLength="236" lengthAdjust="spacingAndGlyphs">BARRIER ON 4" CRUSHED STONE</text>
<text x="1354" y="599" textLength="149" lengthAdjust="spacingAndGlyphs">8" FOUNDATION WALL</text>
<text x="1354" y="621" textLength="165" lengthAdjust="spacingAndGlyphs">SEE FOUNDATION PLAN</text>
<text x="1354" y="635" textLength="129" lengthAdjust="spacingAndGlyphs">FOR FOOTING SIZE</text>
<text x="1088" y="446" textLength="64" lengthAdjust="spacingAndGlyphs">TREATED</text>
<text x="1071" y="460" textLength="81" lengthAdjust="spacingAndGlyphs">SILL PLATE</text>
<text x="1050" y="492" textLength="102" lengthAdjust="spacingAndGlyphs">8" SOLID CAP</text>
<text x="1086" y="518" textLength="66" lengthAdjust="spacingAndGlyphs">4" BRICK</text>
<text x="1092" y="532" textLength="60" lengthAdjust="spacingAndGlyphs">&amp; 4" CMU</text>
<text x="1100" y="565" textLength="52" lengthAdjust="spacingAndGlyphs">GRADE</text>
<text transform="translate(1172,558) rotate(-90)" textLength="14" lengthAdjust="spacingAndGlyphs">8"</text>
<text transform="translate(1172,588) rotate(-90)" textLength="18" lengthAdjust="spacingAndGlyphs">12"</text>
<text x="1432" y="709" textLength="25" lengthAdjust="spacingAndGlyphs">NTS</text>

<text x="1713" y="623" textLength="81" lengthAdjust="spacingAndGlyphs">SUB FLOOR</text>
<text x="2045" y="624" textLength="143" lengthAdjust="spacingAndGlyphs">OVERLAP JOISTS W/</text>
<text x="2045" y="639" textLength="163" lengthAdjust="spacingAndGlyphs">BLOCKING IN BETWEEN</text>
<text x="1702" y="703" textLength="92" lengthAdjust="spacingAndGlyphs">FLOOR JOIST</text>
<text x="1662" y="737" textLength="132" lengthAdjust="spacingAndGlyphs">2x6 TREATED SILL</text>
<text x="2046" y="742" textLength="137" lengthAdjust="spacingAndGlyphs">DROPPED GIRDER</text>
<text x="1731" y="772" textLength="63" lengthAdjust="spacingAndGlyphs">8" SOLID</text>
<text x="1687" y="786" textLength="107" lengthAdjust="spacingAndGlyphs">MASONRY CAP</text>
<text x="1720" y="857" textLength="27" lengthAdjust="spacingAndGlyphs">CMU</text>
<text x="2092" y="847" textLength="106" lengthAdjust="spacingAndGlyphs">SEE FND. PLAN</text>
<text x="2092" y="861" textLength="103" lengthAdjust="spacingAndGlyphs">FOR PIER SIZE</text>
<text x="2092" y="904" textLength="142" lengthAdjust="spacingAndGlyphs">SEE FND. PLAN FOR</text>
<text x="2092" y="918" textLength="95" lengthAdjust="spacingAndGlyphs">FOOTING SIZE</text>
<text x="2091" y="1033" textLength="25" lengthAdjust="spacingAndGlyphs">NTS</text>
<text transform="translate(2023,803) rotate(-90)" textLength="50" lengthAdjust="spacingAndGlyphs">24" MIN</text>
<text transform="translate(1858,823) rotate(-90)" textLength="40" lengthAdjust="spacingAndGlyphs">12" MIN</text>

<text x="1492" y="1050" textLength="73" lengthAdjust="spacingAndGlyphs">2x4 STUDS</text>
<text x="1493" y="1088" textLength="76" lengthAdjust="spacingAndGlyphs">SUBFLOOR</text>
<text x="1492" y="1152" textLength="117" lengthAdjust="spacingAndGlyphs">BAND MATERIAL</text>
<text x="1198" y="1151" textLength="92" lengthAdjust="spacingAndGlyphs">FLOOR JOIST</text>
<text x="1190.5" y="1188" textLength="100" lengthAdjust="spacingAndGlyphs">TREATED SILL</text>
<text x="1088" y="1213" textLength="175" lengthAdjust="spacingAndGlyphs">1/2" DIA. ANCHOR BOLTS</text>
<text x="1088" y="1228" textLength="193" lengthAdjust="spacingAndGlyphs">@ 6'-0" O.C. AND WITHIN 12"</text>
<text x="1088" y="1243" textLength="204" lengthAdjust="spacingAndGlyphs">OF PLATE ENDS (EMBED 7")</text>
<text x="1190" y="1267" textLength="102" lengthAdjust="spacingAndGlyphs">8" SOLID CAP</text>
<text x="1492" y="1207" textLength="61" lengthAdjust="spacingAndGlyphs">4" CMU &amp;</text>
<text x="1492" y="1223" textLength="129" lengthAdjust="spacingAndGlyphs">4" BRICK VENEER</text>
<text x="1490" y="1261" textLength="99" lengthAdjust="spacingAndGlyphs">FINISH GRADE</text>
<text x="1489" y="1309" textLength="48" lengthAdjust="spacingAndGlyphs">8" CMU</text>
<text transform="translate(1472,1366) rotate(-90)" textLength="53" lengthAdjust="spacingAndGlyphs">12" MIN.</text>
<text x="1480" y="1394" textLength="165" lengthAdjust="spacingAndGlyphs">SEE FOUNDATION PLAN</text>
<text x="1487" y="1411" textLength="130" lengthAdjust="spacingAndGlyphs">FOR FOOTING SIZE</text>
<text x="1490" y="1479" textLength="25" lengthAdjust="spacingAndGlyphs">NTS</text>
</g>

<!-- titles -->
<g fill="none" stroke="#e6e8ec" stroke-width=".75" font-size="32">
<text x="1208" y="691" textLength="255" lengthAdjust="spacingAndGlyphs">GARAGE SLAB</text>
<text x="1796" y="1013" textLength="326" lengthAdjust="spacingAndGlyphs">DROPPED GIRDER</text>
<text x="1246" y="1458" textLength="273" lengthAdjust="spacingAndGlyphs">CRAWL SECTION</text>
</g>
<g fill="none" stroke="#e6e8ec" stroke-width=".8" font-size="22">
<text x="1172" y="693" textLength="18" lengthAdjust="spacingAndGlyphs">B</text>
<text x="1758" y="1011" textLength="18" lengthAdjust="spacingAndGlyphs">D</text>
<text x="1214" y="1460" textLength="18" lengthAdjust="spacingAndGlyphs">C</text>
</g>
</svg>
</body></html>
